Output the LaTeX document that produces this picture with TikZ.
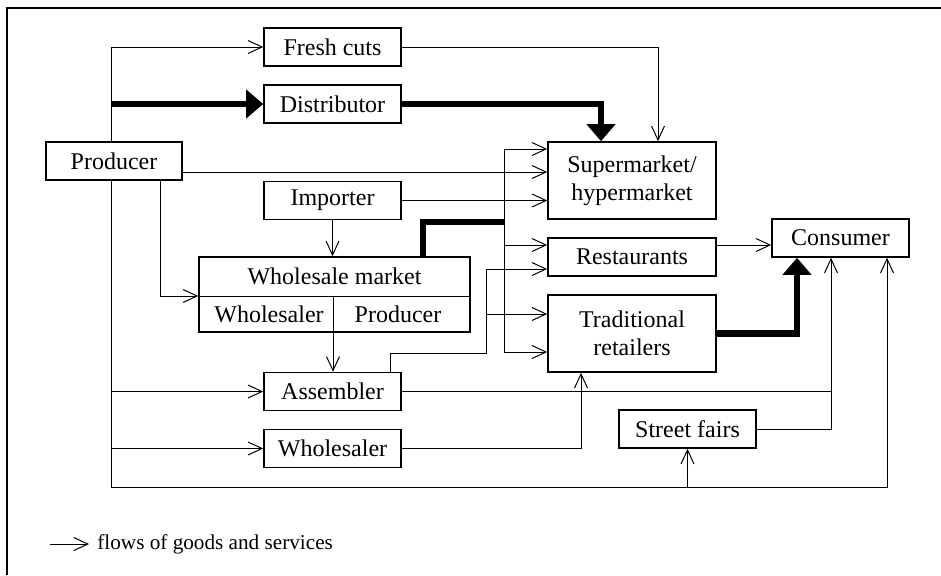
\documentclass[tikz,border=0pt]{standalone}
\usepackage{fontspec}
\setmainfont{Liberation Serif}
\usetikzlibrary{arrows.meta,calc}

\tikzset{
    box/.style={draw, line width=0.8pt, minimum width=68.5pt, minimum height=19pt,
        inner sep=0pt, align=center},
    link/.style={line width=0.5pt},
    flow/.style={link, -{Straight Barb[length=7pt,width=6.5pt]}},
    major/.style={line width=3.2pt, -{Triangle[length=8.5pt,width=14pt]}},
}

\begin{document}
\begin{tikzpicture}[x=0.5pt, y=-0.5pt, font=\fontsize{12pt}{14pt}\selectfont]
    \useasboundingbox (0,0) rectangle (941,575);
    \draw[line width=1pt] (7,575) |- (941,8);

    % left column
    \node[box, minimum width=68pt] (prod) at (114,161) {Producer};
    \node[box] (fresh) at (332.5,47) {Fresh cuts};
    \node[box] (dist) at (332.5,104) {Distributor};
    \node[box] (imp) at (332.5,200.5) {Importer};
    \node[box, minimum width=135.5pt, minimum height=37.5pt] (wm) at (334.5,294.5) {};
    \node (wmt) at (334.5,276) {Wholesale market};
    \node (wmw) at (269,314) {Wholesaler};
    \node (wmp) at (398,314) {Producer};
    \node[box] (asm) at (332.5,391.5) {Assembler};
    \node[box] (whs) at (332.5,448.5) {Wholesaler};

    % right column
    \node[box, minimum width=84pt, minimum height=38.5pt] (sup) at (632,180.5) {Supermarket/\\hypermarket};
    \node[box, minimum width=84pt] (rest) at (632,257) {Restaurants};
    \node[box, minimum width=84pt, minimum height=38.5pt] (trad) at (632,333.5) {Traditional\\retailers};
    \node[box] (cons) at (840.5,238) {Consumer};
    \node[box] (fair) at (687.5,429) {Street fairs};

    % junctions
    \coordinate (pt) at ($(prod.north)+(-3,0)$);
    \coordinate (pb) at ($(prod.south)+(-3,0)$);
    \coordinate (pc) at ($(prod.south)+(46,0)$);
    \coordinate (pr) at ($(prod.east)+(0,11)$);
    \coordinate (bot) at (111,487);
    \coordinate (wmd) at ($(wm.west)+(0,1.5)$);
    \coordinate (wmx) at ($(wm.center)+(-1.5,1.5)$);
    \coordinate (wmout) at (505,222);
    \coordinate (busA) at (504,149);
    \coordinate (busR) at (504,245);
    \coordinate (busB) at (504,352);
    \coordinate (busC) at (486,269);
    \coordinate (busE) at (486,314);
    \coordinate (busD) at (486,353);
    \coordinate (rr) at ($(rest.east)+(0,-12)$);
    \coordinate (cin) at ($(cons.south)+(-9.5,0)$);
    \coordinate (cfar) at ($(cons.south)+(46.5,0)$);
    \coordinate (cbig) at ($(cons.south)+(-43.5,0)$);

    % producer
    \draw[flow] (pt) |- (fresh.west);
    \draw[major] (pt |- dist.west) -- (dist.west);
    \draw[flow] (pr) -- (sup.west |- pr);
    \draw[flow] (pb) -- (bot) -| (cfar);
    \draw[flow] (pb |- asm.west) -- (asm.west);
    \draw[flow] (pb |- whs.west) -- (whs.west);
    \draw[flow] (fair.south |- bot) -- (fair.south);
    \draw[flow] (pc) |- (wmd);

    % wholesale market
    \draw[link] (wmd) -- ($(wm.east)+(0,1.5)$);
    \draw[link] (wmx) -- (wmx |- wm.south);
    \draw[flow] (wmx |- wm.south) -- (wmx |- asm.north);
    \draw[flow] (imp.south) -- (imp.south |- wm.north);
    \draw[major,-] ($(wm.north)+(88.5,0)$) |- (wmout);

    % to supermarket
    \draw[flow] (fresh.east) -| ($(sup.north)+(26,0)$);
    \draw[major] (dist.east) -| ($(sup.north)+(-31,0)$);
    \draw[flow] (imp.east) -- (sup.west |- imp.east);

    % bus
    \draw[link] (busA) -- (busB);
    \draw[flow] (busA) -- (sup.west |- busA);
    \draw[flow] (busR) -- (rest.west |- busR);
    \draw[flow] (busB) -- (trad.west |- busB);
    \draw[link] ($(asm.north)+(57.5,0)$) |- (busD) -- (busC);
    \draw[flow] (busC) -- (rest.west |- busC);
    \draw[flow] (busE) -- (trad.west |- busE);

    % to consumer
    \draw[flow] (asm.east) -| (cin);
    \draw[link] (fair.east) -| (cin |- asm.east);
    \draw[flow] (whs.east) -| ($(trad.south)+(-51,0)$);
    \draw[flow] (rr) -- (cons.west |- rr);
    \draw[major] (trad.east) -| (cbig);

    % legend
    \node[anchor=west, inner sep=4pt, font=\fontsize{10.6pt}{12pt}\selectfont] (legend) at (89,544) {flows of goods and services};
    \coordinate (legarr) at (50,544);
    \draw[flow] (legarr) -- (legend.west);
\end{tikzpicture}
\end{document}
